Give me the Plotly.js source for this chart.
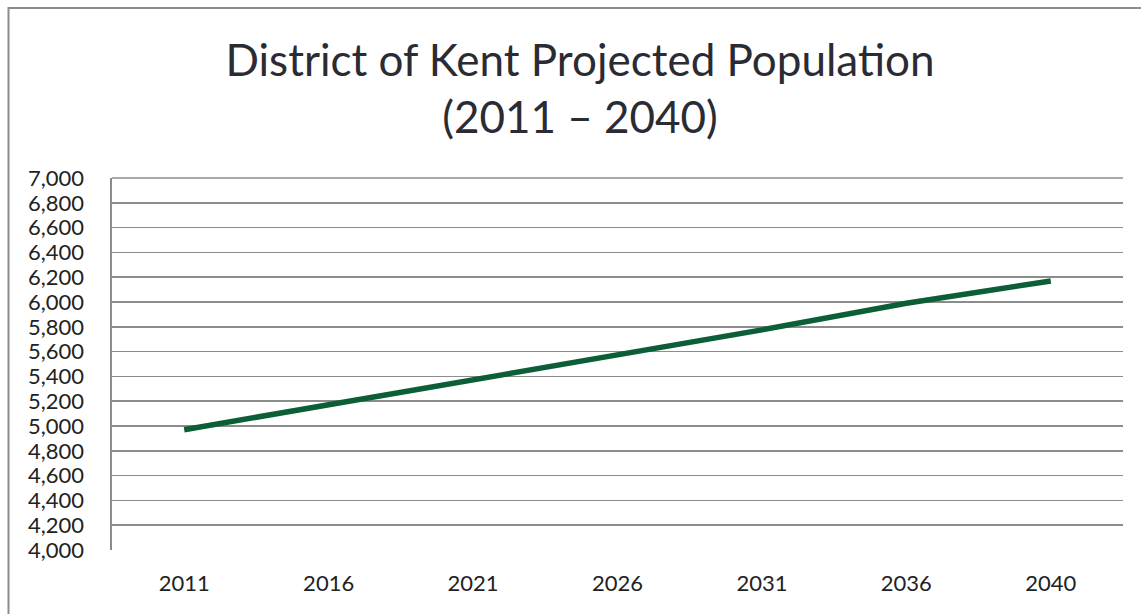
<!DOCTYPE html>
<html>
<head>
<meta charset="utf-8">
<script src="https://cdn.plot.ly/plotly-3.0.1.min.js"></script>
<style>
html,body{margin:0;padding:0;background:#fff;}
#chart{width:1141px;height:614px;}
</style>
</head>
<body>
<div id="chart"></div>
<script>
const years = ["2011", "2016", "2021", "2026", "2031", "2036", "2040"];
const population = [4970, 5170, 5370, 5565, 5775, 5990, 6170];
const titleText = "District of Kent Projected Population<br>(2011 – 2040)";

const W = 1141, H = 614;
const mL = 112, mR = W - 1123, mT = 178, mB = H - 550;
const pw = W - mL - mR, ph = H - mT - mB;
const px = v => (v - mL) / pw;
const py = v => (H - mB - v) / ph;

const trace = {
  type: "scatter",
  mode: "lines",
  x: years,
  y: population,
  line: {color: "#0b5e35", width: 5.5},
  hoverinfo: "x+y"
};

const layout = {
  width: W,
  height: H,
  margin: {l: mL, r: mR, t: mT, b: mB, pad: 0},
  paper_bgcolor: "#ffffff",
  plot_bgcolor: "#ffffff",
  showlegend: false,
  font: {family: "Lato, 'Open Sans', sans-serif", color: "#222222"},
  title: {
    text: titleText,
    font: {family: "Lato, sans-serif", size: 44, color: "#2b2b33"},
    x: 580 / W,
    xref: "container",
    xanchor: "center",
    y: 1 - 76 / H,
    yref: "container",
    yanchor: "middle"
  },
  xaxis: {
    type: "category",
    range: [-0.5, 6.5],
    showgrid: false,
    showline: false,
    zeroline: false,
    ticks: "outside",
    ticklen: 14,
    tickcolor: "rgba(0,0,0,0)",
    tickfont: {size: 22, color: "#222222"},
    fixedrange: true
  },
  yaxis: {
    range: [4000, 7000],
    dtick: 200,
    tick0: 4000,
    tickformat: ",d",
    showgrid: true,
    gridcolor: "#8c8c8c",
    gridwidth: 1.6,
    showline: true,
    linecolor: "#8c8c8c",
    linewidth: 1.6,
    zeroline: false,
    ticks: "outside",
    ticklen: 22,
    tickcolor: "rgba(0,0,0,0)",
    tickfont: {size: 22, color: "#222222"},
    fixedrange: true
  },
  shapes: [
    {
      type: "rect",
      xref: "paper", yref: "paper",
      x0: px(8.5), x1: px(W + 20),
      y0: py(H + 20), y1: py(8),
      line: {color: "#8c8c8c", width: 2},
      fillcolor: "rgba(0,0,0,0)",
      layer: "below"
    },
    {
      type: "line",
      xref: "paper", yref: "paper",
      x0: 0, x1: 1, y0: 1, y1: 1,
      line: {color: "#8c8c8c", width: 1.6},
      layer: "below"
    }
  ]
};

Plotly.newPlot("chart", [trace], layout, {displayModeBar: false, staticPlot: true});
</script>
</body>
</html>
